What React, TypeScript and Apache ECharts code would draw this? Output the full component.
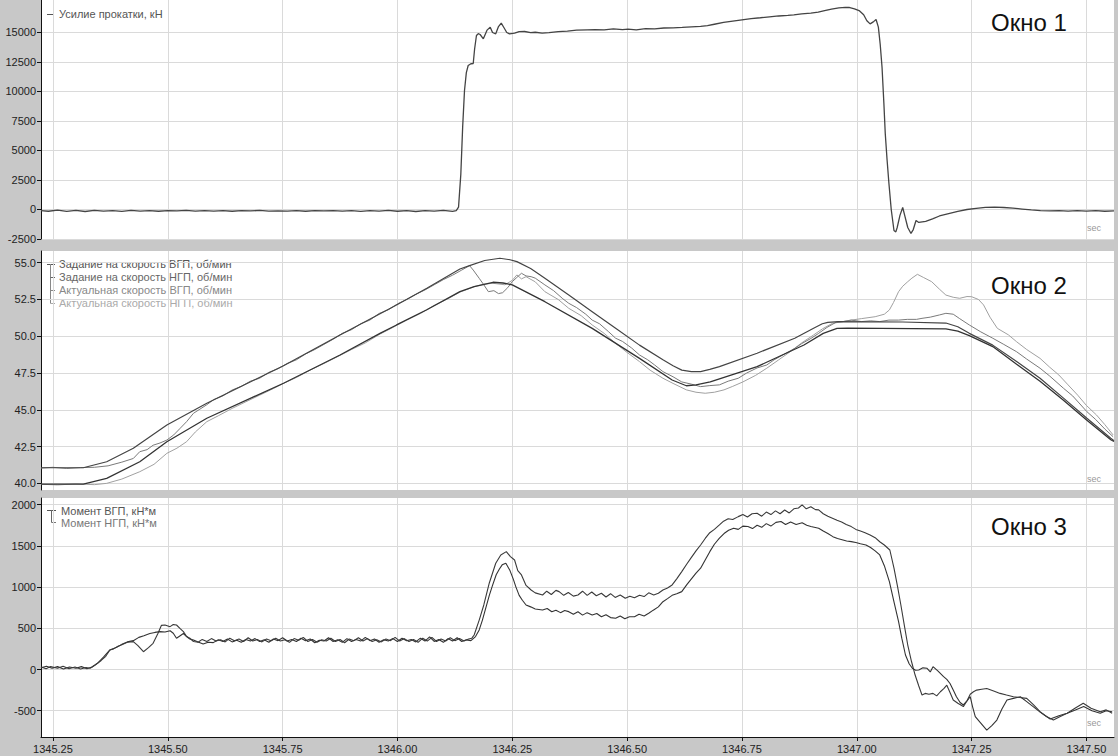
import { useEffect, useRef } from "react";
import * as echarts from "echarts";

// ---------- axes ----------
const timeTicks = [1345.25, 1345.5, 1345.75, 1346.0, 1346.25, 1346.5, 1346.75, 1347.0, 1347.25, 1347.5];
const forceTicks = [-2500, 0, 2500, 5000, 7500, 10000, 12500, 15000];
const speedTicks = [40, 42.5, 45, 47.5, 50, 52.5, 55];
const torqueTicks = [-500, 0, 500, 1000, 1500, 2000];

// ---------- window 1 ----------
const forceName = "Усилие прокатки, кН";
const force: [number, number][] = [
  [1345.224, -90], [1345.24, -150], [1345.26, -60], [1345.28, -160], [1345.3, -80], [1345.32, -170], [1345.34, -70],
  [1345.36, -140], [1345.38, -90], [1345.4, -160], [1345.42, -80], [1345.44, -130], [1345.46, -100], [1345.48, -150],
  [1345.5, -90], [1345.52, -120], [1345.54, -80], [1345.56, -140], [1345.58, -100], [1345.6, -130], [1345.62, -90],
  [1345.64, -150], [1345.66, -100], [1345.68, -120], [1345.7, -80], [1345.72, -140], [1345.74, -110], [1345.76, -130],
  [1345.78, -90], [1345.8, -150], [1345.82, -100], [1345.84, -120], [1345.86, -90], [1345.88, -140], [1345.9, -100],
  [1345.92, -160], [1345.94, -90], [1345.96, -130], [1345.98, -80], [1346.0, -150], [1346.02, -100], [1346.04, -170],
  [1346.06, -90], [1346.08, -140], [1346.1, -70], [1346.12, -160], [1346.128, -100],
  [1346.133, 200], [1346.138, 3000], [1346.142, 7000], [1346.146, 10085], [1346.15, 11600], [1346.154, 12200],
  [1346.16, 12350], [1346.165, 12370], [1346.168, 13600], [1346.172, 14745], [1346.176, 14900], [1346.18, 14830],
  [1346.187, 14465], [1346.195, 15200], [1346.202, 15450], [1346.207, 15000], [1346.214, 14890], [1346.22, 15500],
  [1346.226, 15790], [1346.232, 15400], [1346.238, 15000], [1346.244, 14890], [1346.255, 14950], [1346.265, 15080],
  [1346.277, 15085], [1346.29, 14990], [1346.3, 15020], [1346.315, 14940], [1346.33, 14990], [1346.35, 15080],
  [1346.37, 15120], [1346.39, 15200], [1346.413, 15230], [1346.43, 15250], [1346.45, 15220], [1346.47, 15300],
  [1346.49, 15240], [1346.502, 15280], [1346.52, 15230], [1346.54, 15320], [1346.56, 15300], [1346.58, 15380],
  [1346.6, 15400], [1346.62, 15430], [1346.64, 15480], [1346.66, 15520], [1346.675, 15590], [1346.69, 15700],
  [1346.71, 15850], [1346.73, 15960], [1346.75, 16070], [1346.77, 16180], [1346.79, 16250], [1346.81, 16330],
  [1346.83, 16400], [1346.85, 16450], [1346.863, 16500], [1346.88, 16570], [1346.9, 16640], [1346.916, 16720],
  [1346.93, 16850], [1346.945, 16980], [1346.961, 17090], [1346.975, 17130], [1346.983, 17120], [1346.995, 17010],
  [1347.005, 16860], [1347.015, 16500], [1347.022, 16000], [1347.029, 15730], [1347.036, 15900], [1347.042, 16100],
  [1347.047, 15450], [1347.051, 14000], [1347.055, 12060], [1347.059, 9000], [1347.062, 6440], [1347.066, 4200],
  [1347.07, 2200], [1347.075, 0], [1347.081, -1780], [1347.085, -1900], [1347.088, -1525], [1347.094, -500],
  [1347.1, 170], [1347.105, -600], [1347.111, -1525], [1347.118, -2030], [1347.123, -1700], [1347.129, -930],
  [1347.135, -1100], [1347.15, -1000], [1347.165, -800], [1347.18, -550], [1347.2, -350], [1347.22, -150],
  [1347.24, 0], [1347.26, 100], [1347.28, 180], [1347.3, 200], [1347.32, 170], [1347.34, 120], [1347.36, 40],
  [1347.38, -40], [1347.4, -90], [1347.42, -120], [1347.44, -100], [1347.46, -140], [1347.48, -90], [1347.5, -130],
  [1347.52, -100], [1347.54, -150], [1347.56, -110],
];

// ---------- window 2 ----------
const speedNames = [
  "Задание на скорость ВГП, об/мин",
  "Задание на скорость НГП, об/мин",
  "Актуальная скорость ВГП, об/мин",
  "Актуальная скорость НГП, об/мин",
];
const speedSetTop: [number, number][] = [
  [1345.224, 41.07], [1345.316, 41.07], [1345.367, 41.48], [1345.425, 42.39], [1345.498, 43.97], [1345.585, 45.45],
  [1345.752, 48.0], [1345.875, 50.09], [1345.998, 52.13], [1346.064, 53.26], [1346.136, 54.57], [1346.157, 54.8],
  [1346.19, 55.15], [1346.223, 55.3], [1346.245, 55.2], [1346.26, 55.07], [1346.29, 54.6], [1346.321, 53.94],
  [1346.373, 52.8], [1346.424, 51.67], [1346.475, 50.54], [1346.527, 49.4], [1346.578, 48.4], [1346.6, 48.0],
  [1346.619, 47.7], [1346.64, 47.6], [1346.66, 47.6], [1346.68, 47.75], [1346.701, 47.94], [1346.783, 48.85],
  [1346.865, 49.87], [1346.906, 50.54], [1346.925, 50.85], [1346.937, 50.95], [1346.96, 51.0], [1347.1, 50.97],
  [1347.194, 50.9], [1347.22, 50.65], [1347.245, 50.2], [1347.296, 49.4], [1347.348, 48.28], [1347.399, 47.15],
  [1347.45, 45.8], [1347.501, 44.43], [1347.553, 43.07], [1347.56, 42.9],
];
const speedSetBottom: [number, number][] = [
  [1345.224, 39.96], [1345.316, 39.96], [1345.367, 40.35], [1345.439, 41.48], [1345.498, 42.84], [1345.585, 44.43],
  [1345.752, 46.81], [1345.875, 48.73], [1345.962, 50.2], [1345.998, 50.77], [1346.064, 51.8], [1346.136, 53.03],
  [1346.167, 53.37], [1346.208, 53.67], [1346.23, 53.62], [1346.25, 53.49], [1346.321, 52.35], [1346.424, 50.54],
  [1346.527, 48.5], [1346.598, 47.03], [1346.629, 46.64], [1346.65, 46.7], [1346.681, 46.9], [1346.783, 47.94],
  [1346.885, 49.41], [1346.927, 50.2], [1346.957, 50.54], [1346.98, 50.55], [1347.194, 50.5], [1347.22, 50.35],
  [1347.245, 50.05], [1347.296, 49.3], [1347.348, 48.1], [1347.399, 46.95], [1347.45, 45.65], [1347.501, 44.3],
  [1347.553, 42.97], [1347.56, 42.85],
];
const speedActTop: [number, number][] = [
  [1345.224, 41.05], [1345.25, 41.1], [1345.28, 41.02], [1345.31, 41.08], [1345.34, 41.1], [1345.37, 41.2],
  [1345.4, 41.45], [1345.425, 41.7], [1345.439, 42.16], [1345.455, 42.3], [1345.468, 42.6], [1345.483, 42.75],
  [1345.498, 42.95], [1345.513, 43.3], [1345.527, 43.75], [1345.541, 44.2], [1345.556, 44.77], [1345.57, 45.05],
  [1345.585, 45.35], [1345.6, 45.7], [1345.62, 45.95], [1345.64, 46.35], [1345.66, 46.6], [1345.68, 46.95],
  [1345.7, 47.15], [1345.72, 47.55], [1345.74, 47.8], [1345.76, 48.15], [1345.78, 48.4], [1345.8, 48.8],
  [1345.82, 49.1], [1345.84, 49.45], [1345.86, 49.8], [1345.88, 50.2], [1345.9, 50.45], [1345.92, 50.85],
  [1345.94, 51.1], [1345.96, 51.55], [1345.98, 51.8], [1346.0, 52.2], [1346.02, 52.5], [1346.04, 52.85],
  [1346.06, 53.15], [1346.08, 53.5], [1346.1, 53.85], [1346.12, 54.15], [1346.14, 54.5], [1346.157, 54.8],
  [1346.165, 54.5], [1346.178, 53.94], [1346.188, 53.5], [1346.198, 53.03], [1346.21, 53.1], [1346.22, 52.9],
  [1346.229, 52.96], [1346.24, 53.3], [1346.25, 53.71], [1346.26, 54.0], [1346.27, 54.28], [1346.28, 54.1],
  [1346.291, 54.05], [1346.3, 53.95], [1346.321, 53.49], [1346.34, 53.1], [1346.36, 52.55], [1346.373, 52.24],
  [1346.39, 51.95], [1346.41, 51.5], [1346.424, 51.1], [1346.44, 50.85], [1346.46, 50.3], [1346.475, 49.87],
  [1346.49, 49.65], [1346.51, 49.2], [1346.527, 48.73], [1346.545, 48.4], [1346.56, 48.05], [1346.578, 47.6],
  [1346.6, 47.25], [1346.619, 46.9], [1346.64, 46.75], [1346.66, 46.58], [1346.68, 46.65], [1346.701, 46.7],
  [1346.72, 46.95], [1346.742, 47.15], [1346.76, 47.5], [1346.783, 47.85], [1346.804, 48.05], [1346.82, 48.4],
  [1346.84, 48.75], [1346.865, 49.18], [1346.88, 49.5], [1346.9, 49.85], [1346.917, 50.2], [1346.935, 50.6],
  [1346.957, 50.99], [1346.97, 51.0], [1346.988, 51.1], [1347.01, 51.0], [1347.03, 51.05], [1347.05, 51.0],
  [1347.07, 51.1], [1347.091, 51.1], [1347.11, 51.15], [1347.13, 51.15], [1347.142, 51.22], [1347.16, 51.3],
  [1347.18, 51.45], [1347.194, 51.56], [1347.21, 51.5], [1347.224, 51.2], [1347.245, 50.77], [1347.27, 50.3],
  [1347.296, 49.87], [1347.32, 49.45], [1347.348, 48.95], [1347.37, 48.45], [1347.399, 47.83], [1347.42, 47.3],
  [1347.45, 46.47], [1347.47, 45.95], [1347.501, 44.88], [1347.52, 44.35], [1347.54, 43.7], [1347.558, 43.18],
];
const speedActBottom: [number, number][] = [
  [1345.224, 39.95], [1345.26, 39.9], [1345.3, 39.98], [1345.34, 39.92], [1345.367, 40.01], [1345.4, 40.3],
  [1345.439, 40.8], [1345.47, 41.3], [1345.498, 42.05], [1345.52, 42.4], [1345.541, 42.84], [1345.56, 43.5],
  [1345.585, 44.2], [1345.61, 44.6], [1345.64, 45.1], [1345.67, 45.55], [1345.7, 46.0], [1345.73, 46.45],
  [1345.752, 46.8], [1345.78, 47.2], [1345.81, 47.7], [1345.84, 48.15], [1345.875, 48.7], [1345.9, 49.1],
  [1345.93, 49.55], [1345.962, 50.15], [1345.99, 50.6], [1346.02, 51.1], [1346.05, 51.55], [1346.08, 52.1],
  [1346.11, 52.55], [1346.136, 53.0], [1346.167, 53.37], [1346.19, 53.55], [1346.208, 53.6], [1346.234, 53.5],
  [1346.25, 53.8], [1346.26, 54.17], [1346.27, 53.9], [1346.28, 54.05], [1346.3, 53.7], [1346.321, 53.03],
  [1346.35, 52.5], [1346.373, 51.9], [1346.4, 51.4], [1346.424, 50.77], [1346.45, 50.2], [1346.475, 49.52],
  [1346.5, 48.9], [1346.527, 48.28], [1346.55, 47.7], [1346.578, 47.15], [1346.6, 46.8], [1346.629, 46.36],
  [1346.65, 46.2], [1346.67, 46.13], [1346.69, 46.2], [1346.711, 46.36], [1346.73, 46.6], [1346.752, 46.9],
  [1346.78, 47.35], [1346.804, 47.83], [1346.83, 48.4], [1346.855, 48.95], [1346.88, 49.55], [1346.906, 50.09],
  [1346.925, 50.5], [1346.947, 50.88], [1346.97, 51.0], [1346.988, 51.1], [1347.01, 51.2], [1347.04, 51.33],
  [1347.06, 51.5], [1347.071, 51.79], [1347.08, 52.3], [1347.091, 53.03], [1347.1, 53.4], [1347.111, 53.71],
  [1347.12, 53.95], [1347.132, 54.21], [1347.145, 54.0], [1347.163, 53.71], [1347.18, 53.2], [1347.194, 52.8],
  [1347.21, 52.65], [1347.224, 52.58], [1347.24, 52.7], [1347.25, 52.69], [1347.265, 52.5], [1347.276, 52.13],
  [1347.29, 51.3], [1347.306, 50.54], [1347.33, 50.1], [1347.348, 49.63], [1347.37, 49.1], [1347.399, 48.5],
  [1347.42, 47.9], [1347.44, 47.37], [1347.46, 46.7], [1347.481, 46.0], [1347.5, 45.3], [1347.522, 44.65],
  [1347.54, 44.0], [1347.558, 43.3],
];

// ---------- window 3 ----------
const torqueNames = ["Момент ВГП, кН*м", "Момент НГП, кН*м"];
const torqueTop: [number, number][] = [
  [1345.224, 30], [1345.235, 10], [1345.245, 35], [1345.26, 15], [1345.272, 40], [1345.285, 10], [1345.298, 30],
  [1345.31, 5], [1345.322, 25], [1345.331, 15], [1345.342, 55], [1345.355, 110], [1345.365, 160], [1345.374, 237],
  [1345.382, 250], [1345.389, 275], [1345.4, 300], [1345.412, 330], [1345.425, 338], [1345.435, 290], [1345.447, 216],
  [1345.458, 265], [1345.468, 318], [1345.478, 430], [1345.486, 535], [1345.494, 540], [1345.505, 520], [1345.512, 545],
  [1345.519, 540], [1345.527, 495], [1345.534, 460], [1345.541, 400], [1345.548, 379], [1345.556, 340], [1345.566, 330],
  [1345.575, 365], [1345.585, 340], [1345.595, 375], [1345.605, 345], [1345.615, 360], [1345.625, 335], [1345.635, 380],
  [1345.645, 350], [1345.655, 370], [1345.665, 340], [1345.675, 385], [1345.685, 345], [1345.695, 365], [1345.705, 335],
  [1345.715, 370], [1345.725, 350], [1345.735, 380], [1345.745, 345], [1345.755, 360], [1345.765, 330], [1345.775, 375],
  [1345.785, 355], [1345.795, 390], [1345.805, 340], [1345.815, 365], [1345.825, 330], [1345.835, 360], [1345.845, 345],
  [1345.855, 380], [1345.865, 340], [1345.875, 365], [1345.885, 325], [1345.895, 370], [1345.905, 350], [1345.915, 385],
  [1345.925, 345], [1345.935, 375], [1345.945, 340], [1345.955, 360], [1345.965, 335], [1345.975, 370], [1345.985, 350],
  [1345.995, 390], [1346.005, 345], [1346.015, 375], [1346.025, 340], [1346.035, 365], [1346.045, 330], [1346.055, 380],
  [1346.065, 345], [1346.075, 390], [1346.085, 340], [1346.095, 370], [1346.105, 345], [1346.115, 385], [1346.125, 350],
  [1346.135, 375], [1346.145, 345], [1346.155, 370], [1346.162, 380], [1346.167, 419], [1346.178, 600], [1346.188, 783],
  [1346.2, 1050], [1346.214, 1289], [1346.225, 1390], [1346.237, 1430], [1346.246, 1370], [1346.255, 1329],
  [1346.262, 1200], [1346.27, 1147], [1346.28, 1020], [1346.291, 965], [1346.3, 930], [1346.316, 904], [1346.325, 950],
  [1346.335, 910], [1346.345, 960], [1346.352, 945], [1346.362, 900], [1346.372, 935], [1346.383, 890], [1346.393, 904],
  [1346.403, 950], [1346.413, 900], [1346.423, 940], [1346.433, 895], [1346.444, 925], [1346.454, 880], [1346.464, 920],
  [1346.474, 875], [1346.485, 905], [1346.496, 864], [1346.506, 890], [1346.516, 870], [1346.527, 900], [1346.537, 885],
  [1346.547, 930], [1346.558, 905], [1346.568, 925], [1346.578, 965], [1346.588, 990], [1346.598, 1026], [1346.608, 1100],
  [1346.619, 1188], [1346.63, 1280], [1346.64, 1360], [1346.65, 1440], [1346.66, 1511], [1346.67, 1590], [1346.68, 1660],
  [1346.69, 1700], [1346.701, 1754], [1346.71, 1800], [1346.72, 1830], [1346.73, 1820], [1346.742, 1855], [1346.752, 1880],
  [1346.762, 1850], [1346.772, 1890], [1346.783, 1896], [1346.793, 1860], [1346.803, 1910], [1346.813, 1880],
  [1346.823, 1925], [1346.833, 1890], [1346.843, 1935], [1346.853, 1900], [1346.863, 1950], [1346.873, 1960],
  [1346.881, 1997], [1346.89, 1950], [1346.9, 1975], [1346.91, 1940], [1346.917, 1937], [1346.927, 1890], [1346.937, 1860],
  [1346.947, 1835], [1346.957, 1810], [1346.967, 1790], [1346.977, 1760], [1346.988, 1734], [1346.998, 1700],
  [1347.008, 1680], [1347.018, 1660], [1347.029, 1633], [1347.04, 1600], [1347.05, 1550], [1347.06, 1511],
  [1347.072, 1450], [1347.081, 1229], [1347.089, 1000], [1347.096, 783], [1347.104, 520], [1347.111, 297],
  [1347.119, 100], [1347.127, -67], [1347.135, -200], [1347.142, -310], [1347.149, -290], [1347.157, -300],
  [1347.166, -290], [1347.174, -320], [1347.182, -270], [1347.19, -230], [1347.196, -190], [1347.203, -280],
  [1347.21, -370], [1347.22, -410], [1347.232, -450], [1347.24, -380], [1347.247, -300], [1347.254, -270],
  [1347.261, -250], [1347.272, -240], [1347.283, -230], [1347.298, -260], [1347.312, -290], [1347.326, -310],
  [1347.341, -330], [1347.355, -340], [1347.37, -350], [1347.385, -430], [1347.399, -512], [1347.413, -570],
  [1347.428, -613], [1347.443, -570], [1347.458, -530], [1347.475, -470], [1347.493, -410], [1347.51, -470],
  [1347.53, -512], [1347.543, -490], [1347.556, -530],
];
const torqueBottom: [number, number][] = [
  [1345.224, 20], [1345.236, 40], [1345.248, 15], [1345.26, 35], [1345.273, 5], [1345.286, 30], [1345.3, 15],
  [1345.312, 35], [1345.324, 10], [1345.335, 30], [1345.348, 80], [1345.36, 150], [1345.374, 237], [1345.389, 270],
  [1345.4, 305], [1345.412, 335], [1345.425, 350], [1345.437, 390], [1345.448, 410], [1345.461, 437], [1345.472, 450],
  [1345.483, 460], [1345.494, 455], [1345.505, 470], [1345.512, 440], [1345.519, 379], [1345.527, 410], [1345.534, 437],
  [1345.541, 400], [1345.548, 370], [1345.556, 358], [1345.566, 335], [1345.577, 310], [1345.588, 330], [1345.599, 326],
  [1345.61, 360], [1345.62, 340], [1345.63, 370], [1345.64, 335], [1345.65, 355], [1345.66, 330], [1345.67, 365],
  [1345.68, 345], [1345.69, 375], [1345.7, 340], [1345.71, 360], [1345.72, 330], [1345.73, 370], [1345.74, 350],
  [1345.75, 385], [1345.76, 345], [1345.77, 365], [1345.78, 340], [1345.79, 380], [1345.8, 350], [1345.81, 370],
  [1345.82, 325], [1345.83, 355], [1345.84, 345], [1345.85, 385], [1345.86, 340], [1345.87, 360], [1345.88, 330],
  [1345.89, 375], [1345.9, 340], [1345.91, 365], [1345.92, 345], [1345.93, 390], [1345.94, 350], [1345.95, 370],
  [1345.96, 330], [1345.97, 360], [1345.98, 345], [1345.99, 375], [1346.0, 340], [1346.01, 380], [1346.02, 350],
  [1346.03, 365], [1346.04, 335], [1346.05, 380], [1346.06, 345], [1346.07, 395], [1346.08, 340], [1346.09, 365],
  [1346.1, 330], [1346.11, 375], [1346.12, 345], [1346.13, 385], [1346.14, 340], [1346.15, 360], [1346.16, 350],
  [1346.17, 400], [1346.178, 480], [1346.185, 600], [1346.193, 760], [1346.2, 900], [1346.207, 1020], [1346.215, 1150],
  [1346.222, 1220], [1346.228, 1270], [1346.236, 1290], [1346.245, 1200], [1346.252, 1100], [1346.258, 1000],
  [1346.265, 900], [1346.272, 840], [1346.28, 783], [1346.29, 760], [1346.3, 735], [1346.316, 722], [1346.326, 740],
  [1346.336, 700], [1346.345, 720], [1346.355, 690], [1346.364, 715], [1346.373, 702], [1346.383, 670], [1346.393, 700],
  [1346.403, 660], [1346.413, 690], [1346.424, 662], [1346.434, 680], [1346.444, 640], [1346.454, 665], [1346.464, 630],
  [1346.475, 621], [1346.485, 650], [1346.495, 615], [1346.505, 640], [1346.516, 641], [1346.526, 670], [1346.537, 650],
  [1346.547, 682], [1346.557, 720], [1346.568, 760], [1346.578, 823], [1346.588, 860], [1346.598, 900], [1346.608, 920],
  [1346.619, 945], [1346.63, 1030], [1346.64, 1100], [1346.65, 1170], [1346.66, 1229], [1346.67, 1330], [1346.68, 1430],
  [1346.69, 1520], [1346.701, 1593], [1346.711, 1650], [1346.721, 1690], [1346.732, 1715], [1346.742, 1700],
  [1346.752, 1740], [1346.763, 1736], [1346.773, 1710], [1346.783, 1750], [1346.793, 1725], [1346.803, 1770],
  [1346.813, 1740], [1346.824, 1785], [1346.835, 1795], [1346.845, 1760], [1346.856, 1790], [1346.868, 1760],
  [1346.881, 1780], [1346.891, 1750], [1346.9, 1735], [1346.917, 1715], [1346.927, 1680], [1346.937, 1650],
  [1346.948, 1612], [1346.958, 1590], [1346.968, 1575], [1346.978, 1560], [1346.988, 1552], [1346.998, 1540],
  [1347.008, 1525], [1347.02, 1511], [1347.03, 1480], [1347.04, 1440], [1347.05, 1390], [1347.06, 1260],
  [1347.071, 1066], [1347.081, 820], [1347.091, 580], [1347.098, 380], [1347.106, 176], [1347.114, 70], [1347.121, 15],
  [1347.128, -10], [1347.135, -6], [1347.144, 20], [1347.153, 15], [1347.16, -30], [1347.166, 34], [1347.177, -20],
  [1347.189, -87], [1347.196, -120], [1347.203, -170], [1347.21, -250], [1347.217, -330], [1347.225, -400],
  [1347.232, -430], [1347.24, -380], [1347.247, -330], [1347.252, -450], [1347.258, -573], [1347.27, -650],
  [1347.283, -735], [1347.294, -680], [1347.305, -613], [1347.316, -480], [1347.327, -370], [1347.341, -350],
  [1347.356, -330], [1347.37, -390], [1347.384, -450], [1347.4, -520], [1347.421, -600], [1347.44, -560],
  [1347.458, -530], [1347.476, -490], [1347.494, -450], [1347.512, -500], [1347.53, -530], [1347.543, -500],
  [1347.556, -512],
];

const windowLabels = ["Окно 1", "Окно 2", "Окно 3"];

const FONT = "'Liberation Sans', Arial, sans-serif";
const GRAY = "#c8c8c8";
const GRID_LINE = "#dadada";

export default function App() {
  const ref = useRef<HTMLDivElement>(null);

  useEffect(() => {
    if (!ref.current) return;
    const chart = echarts.init(ref.current, undefined, { renderer: "svg" });

    const gridTops = [0, 251, 498];
    const gridH = 239;
    const yRanges: [number, number][] = [
      [-2500, 17754],
      [39.558, 55.794],
      [-819, 2081],
    ];
    const yTickSets = [forceTicks, speedTicks, torqueTicks];
    const yFormat = [
      (v: number) => String(v),
      (v: number) => v.toFixed(1),
      (v: number) => String(v),
    ];

    const xAxis = [0, 1, 2].map((i) => ({
      type: "value",
      gridIndex: i,
      min: 1345.224,
      max: 1347.56,
      axisLine: { show: i === 2, onZero: false, lineStyle: { color: "#111", width: 1 } },
      axisTick: {
        show: i === 2,
        length: 4,
        customValues: timeTicks,
        lineStyle: { color: "#111" },
      },
      axisLabel: {
        show: i === 2,
        customValues: timeTicks,
        formatter: (v: number) => v.toFixed(2),
        color: "#222",
        fontSize: 11,
        fontFamily: FONT,
        margin: 6,
      },
      splitLine: { show: true, lineStyle: { color: GRID_LINE, width: 1 } },
    }));

    const yAxis = [0, 1, 2].map((i) => ({
      type: "value",
      gridIndex: i,
      min: yRanges[i][0],
      max: yRanges[i][1],
      axisLine: { show: true, onZero: false, lineStyle: { color: "#111", width: 1 } },
      axisTick: {
        show: true,
        length: 4,
        customValues: yTickSets[i],
        lineStyle: { color: "#111" },
      },
      axisLabel: {
        customValues: yTickSets[i],
        formatter: yFormat[i],
        color: "#222",
        fontSize: 11,
        fontFamily: FONT,
        margin: 5,
      },
      splitLine: { show: true, lineStyle: { color: GRID_LINE, width: 1 } },
    }));

    const line = (name: string, data: [number, number][], idx: number, color: string, width = 1) => ({
      type: "line",
      name,
      data,
      xAxisIndex: idx,
      yAxisIndex: idx,
      showSymbol: false,
      symbol: "none",
      lineStyle: { color, width },
      itemStyle: { color },
      silent: true,
      clip: true,
    });

    const legendText = (text: string, x: number, y: number, fill: string) => ({
      type: "text",
      x,
      y,
      silent: true,
      style: { text, fill, fontSize: 11, fontFamily: FONT, verticalAlign: "middle", align: "left" },
    });
    const seg = (x1: number, y1: number, x2: number, y2: number, stroke: string) => ({
      type: "line",
      silent: true,
      shape: { x1, y1, x2, y2 },
      style: { stroke, lineWidth: 1 },
    });

    const graphic: any[] = [
      // window 1 legend
      seg(47, 14.5, 54, 14.5, "#555"),
      legendText(forceName, 59, 14, "#555"),
      // window 2 legend
      seg(47, 264.5, 55, 264.5, "#555"),
      seg(50.5, 264, 50.5, 303.5, "#888"),
      seg(50.5, 277.5, 55, 277.5, "#666"),
      seg(50.5, 290.5, 55, 290.5, "#888"),
      seg(50.5, 303.5, 55, 303.5, "#aaa"),
      legendText(speedNames[0], 59, 264, "#555"),
      legendText(speedNames[1], 59, 277, "#666"),
      legendText(speedNames[2], 59, 290, "#888"),
      legendText(speedNames[3], 59, 303, "#aaa"),
      // window 3 legend
      seg(47, 510.5, 56, 510.5, "#555"),
      seg(51.5, 510, 51.5, 522.5, "#666"),
      seg(51.5, 522.5, 56, 522.5, "#777"),
      legendText(torqueNames[0], 61, 511, "#555"),
      legendText(torqueNames[1], 61, 523, "#777"),
    ];
    windowLabels.forEach((t, i) => {
      graphic.push({
        type: "text",
        x: 991,
        y: [22, 285, 526][i],
        silent: true,
        style: { text: t, fill: "#111", fontSize: 24, fontFamily: FONT, verticalAlign: "middle" },
      });
      graphic.push({
        type: "text",
        x: 1087,
        y: [228, 479, 723][i],
        silent: true,
        style: { text: "sec", fill: "#999", fontSize: 9, fontFamily: FONT, verticalAlign: "middle" },
      });
    });

    chart.setOption({
      animation: false,
      backgroundColor: GRAY,
      textStyle: { fontFamily: FONT },
      grid: gridTops.map((top) => ({
        left: 41,
        right: 4,
        top,
        height: gridH,
        show: true,
        backgroundColor: "#ffffff",
        borderWidth: 0,
      })),
      xAxis,
      yAxis,
      series: [
        line(forceName, force, 0, "#444", 1.3),
        line(speedNames[3], speedActBottom, 1, "#a0a0a0", 1),
        line(speedNames[2], speedActTop, 1, "#7a7a7a", 1),
        line(speedNames[1], speedSetBottom, 1, "#333", 1.3),
        line(speedNames[0], speedSetTop, 1, "#444", 1.2),
        line(torqueNames[1], torqueBottom, 2, "#333", 1.1),
        line(torqueNames[0], torqueTop, 2, "#3a3a3a", 1.1),
      ],
      graphic,
    });

    return () => chart.dispose();
  }, []);

  return (
    <div
      ref={ref}
      style={{ position: "absolute", left: 0, top: 0, width: 1118, height: 756 }}
    />
  );
}
